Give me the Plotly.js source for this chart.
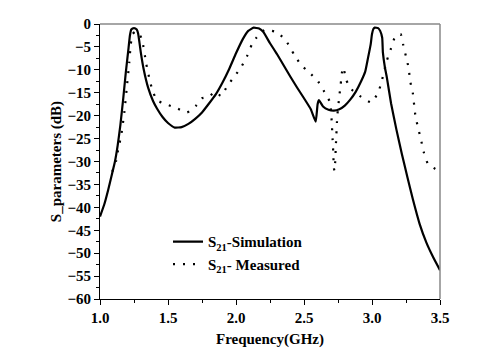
<!DOCTYPE html>
<html>
<head>
<meta charset="utf-8">
<script src="https://cdn.plot.ly/plotly-3.0.1.min.js"></script>
<style>html,body{margin:0;padding:0;background:#fff;}#chart{width:500px;height:360px;}</style>
</head>
<body>
<div id="chart"></div>
<script>
// Simulation S21 (GHz, dB)
const simFreq = [1.00,1.03,1.06,1.09,1.11,1.13,1.15,1.17,1.19,1.21,1.22,1.23,1.25,1.27,1.28,1.29,1.30,1.32,1.355,1.39,1.42,1.46,1.50,1.55,1.60,1.65,1.70,1.75,1.80,1.85,1.90,1.95,2.00,2.05,2.09,2.13,2.17,2.20,2.25,2.30,2.35,2.40,2.45,2.50,2.55,2.586,2.60,2.61,2.64,2.68,2.72,2.76,2.80,2.84,2.88,2.92,2.95,2.97,2.99,3.00,3.01,3.02,3.045,3.06,3.075,3.08,3.095,3.11,3.14,3.18,3.22,3.26,3.30,3.35,3.40,3.45,3.50];
const simDB   = [-42,-39.5,-36.2,-32.5,-30,-26.5,-22,-16.5,-10.5,-5.2,-2.5,-1.2,-0.9,-1.2,-2,-4,-6.2,-9.7,-14,-16.8,-18.5,-20.3,-21.6,-22.6,-22.5,-21.8,-20.7,-19.3,-17.4,-15.4,-12.8,-9.8,-6.4,-3.3,-1.5,-0.8,-1.0,-1.7,-4.2,-6.5,-9,-11.5,-13.9,-16.2,-18.6,-21.3,-17.5,-16.6,-18,-18.7,-18.9,-18.6,-17.8,-16.5,-14.8,-12.5,-10.4,-7.5,-4.5,-2.2,-1.1,-0.8,-0.9,-1.5,-3.0,-6.2,-9.5,-11.8,-17.3,-23.1,-28.4,-33.4,-38.2,-43.6,-47.7,-50.9,-53.7];

// Measured S21 (GHz, dB)
const measFreq = [1.09,1.12,1.135,1.155,1.18,1.20,1.215,1.226,1.24,1.265,1.29,1.31,1.34,1.36,1.38,1.417,1.485,1.56,1.64,1.71,1.75,1.80,1.846,1.89,1.936,1.99,2.04,2.08,2.115,2.15,2.21,2.29,2.36,2.43,2.48,2.54,2.605,2.65,2.69,2.70,2.705,2.71,2.715,2.72,2.725,2.735,2.745,2.76,2.77,2.78,2.79,2.81,2.85,2.92,2.995,3.046,3.07,3.11,3.14,3.17,3.21,3.23,3.25,3.27,3.28,3.30,3.31,3.32,3.34,3.36,3.38,3.41,3.48,3.50];
const measDB   = [-32.2,-29.7,-27.1,-24.5,-19,-13,-8.5,-4.5,-2.2,-1.6,-2.2,-3.5,-8.7,-11.5,-13.9,-16.6,-17.5,-18.3,-19.3,-17.7,-16.2,-15.9,-14.8,-15.7,-13.5,-11.4,-9.3,-7.1,-4.6,-3.0,-1.3,-1.7,-3.3,-6.8,-9,-10.6,-12.6,-14.8,-17,-19.5,-22,-25,-28,-31.5,-32,-26,-20,-15.7,-13.1,-10.4,-9.5,-12.2,-14.3,-15.9,-17.1,-14.9,-12.6,-7.9,-5.3,-2.8,-2.2,-4.6,-7.1,-9.7,-12.4,-15,-17.7,-20.2,-22.8,-25.2,-27.9,-30.4,-31.9,-32];

const xTicks = [1.0,1.5,2.0,2.5,3.0,3.5];
const xTickText = ['1.0','1.5','2.0','2.5','3.0','3.5'];

const serif = 'Liberation Serif, Times New Roman, serif';

const traces = [
  {x: simFreq, y: simDB, type: 'scatter', mode: 'lines', name: 'S<sub>21</sub>-Simulation',
   line: {color: '#000', width: 2.2, shape: 'spline', smoothing: 0.4}},
  {x: measFreq, y: measDB, type: 'scatter', mode: 'lines', name: 'S<sub>21</sub>- Measured',
   line: {color: '#000', width: 2.2, dash: '2px,8px', shape: 'spline', smoothing: 0.5}}
];

const axisCommon = {
  showgrid: false, zeroline: false, showline: true, linecolor: '#000', linewidth: 1,
  ticks: 'outside', ticklen: 5, tickwidth: 1, tickcolor: '#000',
  tickfont: {family: serif, size: 15, color: '#000', weight: 'bold'}
};

const layout = {
  width: 500, height: 360,
  margin: {l: 100, r: 60, t: 24, b: 61},
  paper_bgcolor: '#fff', plot_bgcolor: '#fff',
  showlegend: true,
  legend: {x: 0.2, y: 0.268, xanchor: 'left', yanchor: 'top', bgcolor: 'rgba(0,0,0,0)',
    font: {family: serif, size: 15, color: '#000', weight: 'bold'}, tracegroupgap: 0},
  xaxis: Object.assign({}, axisCommon, {
    range: [1.0, 3.5], tickvals: xTicks, ticktext: xTickText,
    minor: {tickvals: [1.25,1.75,2.25,2.75,3.25], ticks: 'outside', ticklen: 3, tickcolor: '#000'},
    title: {text: 'Frequency(GHz)', font: {family: serif, size: 15, color: '#000', weight: 'bold'}, standoff: 8}
  }),
  yaxis: Object.assign({}, axisCommon, {
    range: [-60, 0], dtick: 5, tick0: 0,
    minor: {dtick: 2.5, ticks: 'outside', ticklen: 3, tickcolor: '#000'},
    title: {text: 'S_parameters (dB)', font: {family: serif, size: 15, color: '#000', weight: 'bold'}, standoff: 2}
  }),
  shapes: [
    {type: 'line', xref: 'paper', yref: 'paper', x0: 0, x1: 1, y0: 1, y1: 1, line: {color: '#888', width: 1.5}},
    {type: 'line', xref: 'paper', yref: 'paper', x0: 1, x1: 1, y0: 0, y1: 1, line: {color: '#888', width: 1.5}}
  ]
};

Plotly.newPlot('chart', traces, layout, {staticPlot: true, displayModeBar: false});
</script>
</body>
</html>
